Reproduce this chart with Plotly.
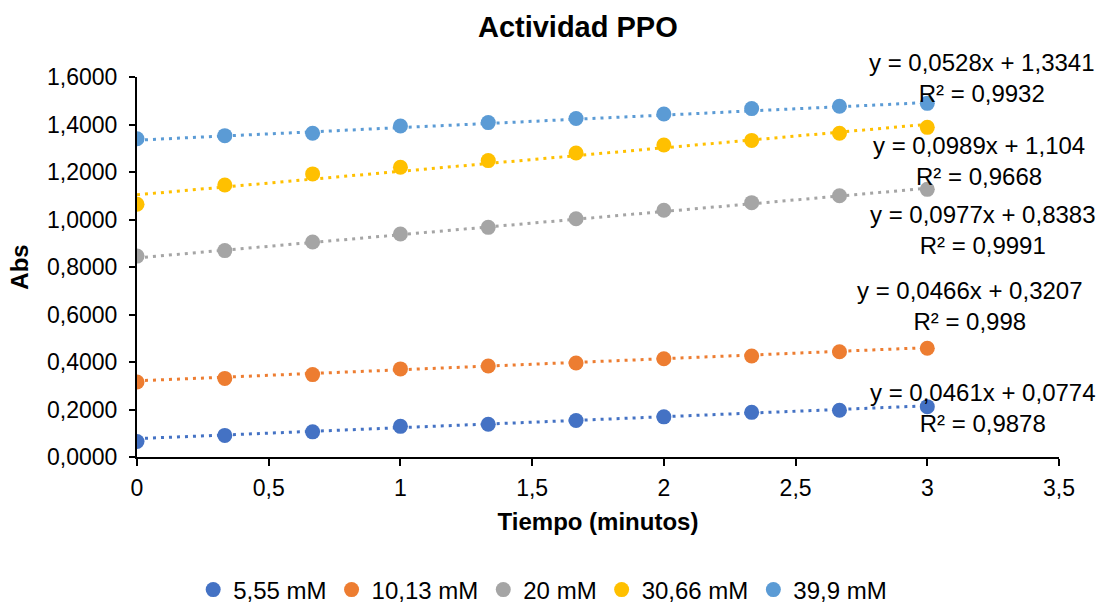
import plotly.graph_objects as go

# Sampling times (minutes)
tiempo = [0, 1/3, 2/3, 1, 4/3, 5/3, 2, 7/3, 8/3, 3]

# Series names and absorbance readings
series = ["5,55 mM", "10,13 mM", "20 mM", "30,66 mM", "39,9 mM"]
abs_555 = [0.065, 0.091, 0.106, 0.129, 0.138, 0.154, 0.169, 0.188, 0.197, 0.212]
abs_1013 = [0.316, 0.331, 0.347, 0.371, 0.383, 0.396, 0.414, 0.425, 0.443, 0.458]
abs_20 = [0.846, 0.869, 0.905, 0.939, 0.967, 1.003, 1.039, 1.071, 1.100, 1.127]
abs_3066 = [1.064, 1.145, 1.192, 1.220, 1.248, 1.280, 1.314, 1.333, 1.363, 1.388]
abs_399 = [1.340, 1.353, 1.363, 1.394, 1.408, 1.425, 1.444, 1.467, 1.477, 1.489]
valores = [abs_555, abs_1013, abs_20, abs_3066, abs_399]

# Linear trendline coefficients and R²
pendientes = [0.0461, 0.0466, 0.0977, 0.0989, 0.0528]
intercepts = [0.0774, 0.3207, 0.8383, 1.104, 1.3341]
r2 = [0.9878, 0.998, 0.9991, 0.9668, 0.9932]

colores = ["#4472C4", "#ED7D31", "#A5A5A5", "#FFC000", "#5B9BD5"]

# Label placement: x centre (data units), block centre height (paper units)
etiqueta_x = [3.212, 3.162, 3.212, 3.196, 3.208]
etiqueta_y = [0.130, 0.397, 0.597, 0.780, 0.997]

FONT = "Liberation Sans, Arial, sans-serif"


def coma(v):
    return str(v).replace(".", ",")


fig = go.Figure()

for m, b, col in zip(pendientes, intercepts, colores):
    xt = [tiempo[0], tiempo[-1]]
    fig.add_trace(go.Scatter(
        x=xt, y=[m * x + b for x in xt], mode="lines",
        line=dict(color=col, width=3, dash="3px,5px"),
        showlegend=False, hoverinfo="skip",
    ))

for nombre, ys, col in zip(series, valores, colores):
    fig.add_trace(go.Scatter(
        x=tiempo, y=ys, mode="markers", name=nombre,
        marker=dict(color=col, size=15, symbol="circle"),
    ))

for i in range(len(series)):
    fig.add_annotation(
        x=etiqueta_x[i], y=etiqueta_y[i], xref="x", yref="paper",
        text=(f"y = {coma(pendientes[i])}x + {coma(intercepts[i])}"
              f"<br>R² = {coma(r2[i])}"),
        showarrow=False, xanchor="center", yanchor="middle", align="center",
        font=dict(family=FONT, size=24, color="black"),
    )

fig.update_layout(
    width=1107, height=603,
    margin=dict(l=137, r=48, t=77, b=146),
    paper_bgcolor="white", plot_bgcolor="white",
    separators=",.",
    font=dict(family=FONT, size=22, color="black"),
    title=dict(
        text="<b>Actividad PPO</b>", x=0.522, xref="container", xanchor="center",
        y=1 - 27 / 603, yref="container", yanchor="middle",
        font=dict(family=FONT, size=29, color="black"),
    ),
    xaxis=dict(
        range=[0, 3.5], dtick=0.5, tick0=0, automargin=False,
        showgrid=False, zeroline=False,
        showline=True, linecolor="black", linewidth=2,
        ticks="outside", ticklen=7, tickcolor="black", tickwidth=2,
        ticklabelstandoff=2,
        tickfont=dict(family=FONT, size=23, color="black"),
        title=dict(text="<b>Tiempo (minutos)</b>", standoff=14,
                   font=dict(family=FONT, size=24, color="black")),
    ),
    yaxis=dict(
        range=[0, 1.6], dtick=0.2, tick0=0, tickformat=".4f", automargin=False,
        showgrid=False, zeroline=False,
        showline=True, linecolor="black", linewidth=2,
        ticks="outside", ticklen=6, tickcolor="black", tickwidth=2,
        ticklabelstandoff=7,
        tickfont=dict(family=FONT, size=23, color="black"),
        title=dict(text="<b>Abs</b>", standoff=12,
                   font=dict(family=FONT, size=24, color="black")),
    ),
    legend=dict(
        orientation="h", x=0.44, xanchor="center",
        y=1 - 590 / 603, yref="container", yanchor="middle",
        font=dict(family=FONT, size=24, color="black"),
        itemwidth=30, bgcolor="rgba(0,0,0,0)",
    ),
)

fig.write_html("out.html")
